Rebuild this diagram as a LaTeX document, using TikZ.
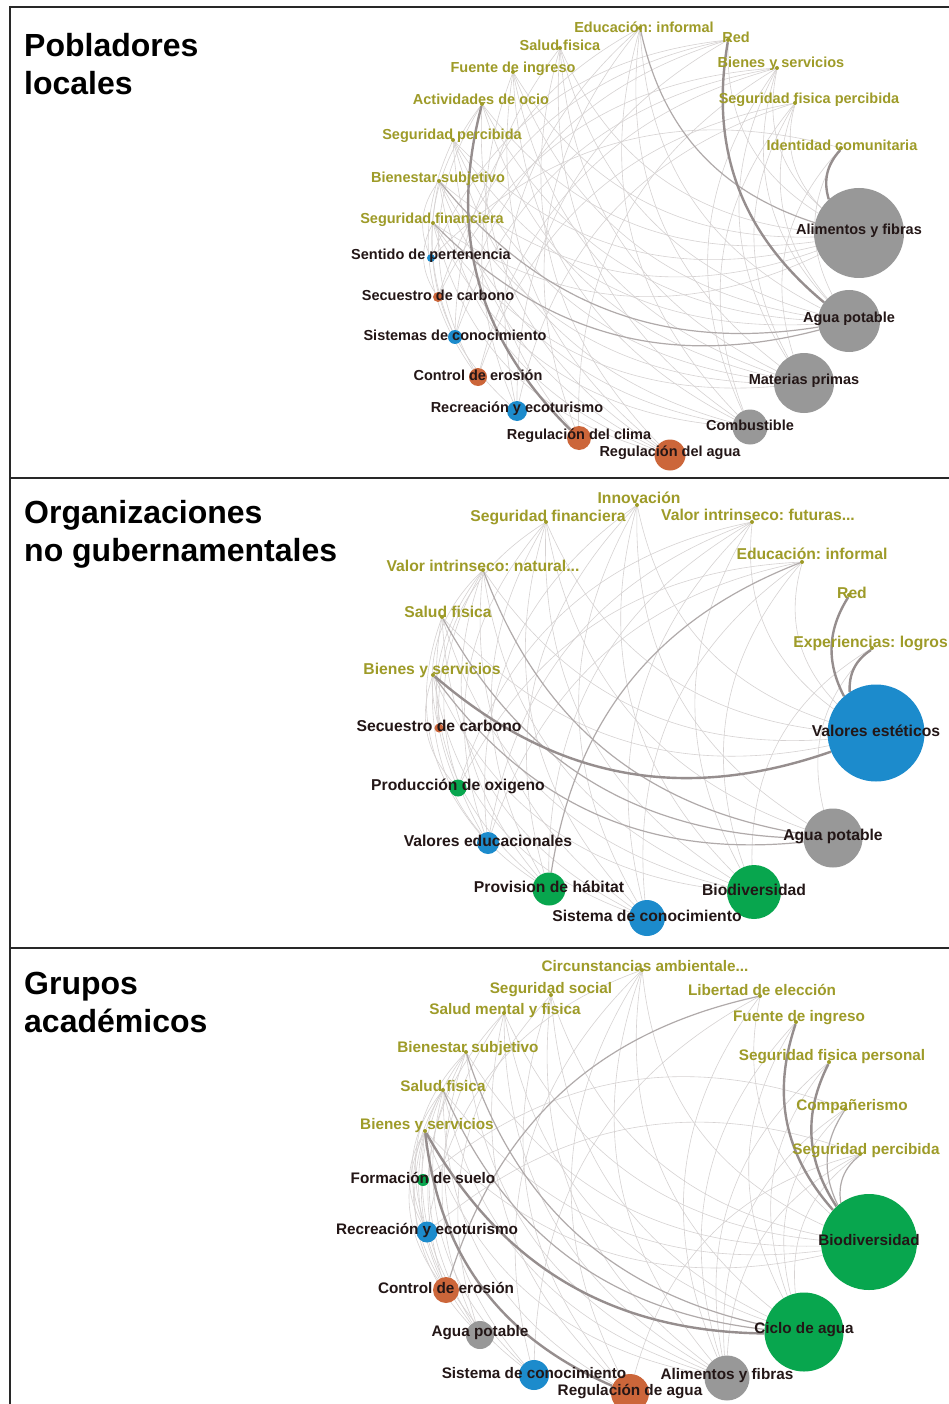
\documentclass[tikz,border=0pt]{standalone}
\usepackage{fontspec}
\setmainfont{Liberation Sans}
\usetikzlibrary{backgrounds}
\frenchspacing

\definecolor{wbtext}{RGB}{158,155,40}
\definecolor{svtext}{RGB}{35,22,22}
\definecolor{cgris}{RGB}{152,152,152}
\definecolor{cnaranja}{RGB}{204,102,58}
\definecolor{cazul}{RGB}{28,139,204}
\definecolor{cverde}{RGB}{8,166,78}
\definecolor{lnkfaint}{RGB}{214,210,210}
\definecolor{lnkmed}{RGB}{176,170,170}
\definecolor{lnkdark}{RGB}{150,142,142}
\definecolor{frame}{RGB}{40,40,40}

\begin{document}
\begin{tikzpicture}[x=1pt,y=-1pt,
  wbdot/.style={circle,fill=wbtext,inner sep=0pt,minimum size=4pt},
  svdot/.style={circle,inner sep=0pt,minimum size=#1},
  wblab/.style={text=wbtext,inner sep=0pt},
  svlab/.style={text=svtext,inner sep=0pt,yshift=2pt},
  heading/.style={font=\bfseries\fontsize{32}{38}\selectfont,anchor=base west,inner sep=0pt},
  lnk/.style={draw=lnkfaint,line width=0.6pt,bend right=30},
  lnkmid/.style={draw=lnkmed,line width=1.2pt,bend right=30},
  lnkbold/.style={draw=lnkdark,line width=2.4pt,bend right=30}]
\useasboundingbox (0,0) rectangle (949,1404);

% frame
\draw[frame,line width=2.5pt] (9,7) -- (949,7);
\draw[frame,line width=1.5pt] (10,6) -- (10,1404);
\draw[frame,line width=1.5pt] (10,478) -- (949,478);
\draw[frame,line width=1.5pt] (10,948) -- (949,948);

% headings
\node[heading] (t1a) at (24,57) {Pobladores};
\node[heading] (t1b) at (24,95) {locales};
\node[heading] (t2a) at (24,523) {Organizaciones};
\node[heading] (t2b) at (24,561) {no gubernamentales};
\node[heading] (t3a) at (24,994) {Grupos};
\node[heading] (t3b) at (24,1032) {académicos};

% Pobladores locales
\begin{scope}[font=\bfseries\fontsize{14.5}{17}\selectfont]
\node[wbdot] (a-edu) at (640,28) {};
\node[wbdot] (a-salud) at (560,48) {};
\node[wbdot] (a-fuente) at (513,72) {};
\node[wbdot] (a-ocio) at (482,104) {};
\node[wbdot] (a-segperc) at (453,140) {};
\node[wbdot] (a-bienest) at (439,181) {};
\node[wbdot] (a-segfin) at (433,223) {};
\node[wbdot] (a-red) at (728,40) {};
\node[wbdot] (a-bienes) at (777,68) {};
\node[wbdot] (a-segfis) at (795,103) {};
\node[wbdot] (a-ident) at (841,148) {};
\node[wblab] (a-edu-l) at (644,27) {Educación: informal};
\node[wblab] (a-salud-l) at (560,45) {Salud fisica};
\node[wblab] (a-fuente-l) at (513,69) {Fuente de ingreso};
\node[wblab] (a-ocio-l) at (481,99) {Actividades de ocio};
\node[wblab] (a-segperc-l) at (452,136) {Seguridad percibida};
\node[wblab] (a-bienest-l) at (438,179) {Bienestar subjetivo};
\node[wblab] (a-segfin-l) at (432,220) {Seguridad financiera};
\node[wblab] (a-red-l) at (736,37) {Red};
\node[wblab] (a-bienes-l) at (781,64) {Bienes y servicios};
\node[wblab] (a-segfis-l) at (809,100) {Seguridad fisica percibida};
\node[wblab] (a-ident-l) at (842,145) {Identidad comunitaria};
\node[svdot=8pt,fill=cazul] (a-sent) at (431,258) {};
\node[svdot=10pt,fill=cnaranja] (a-secu) at (438,297) {};
\node[svdot=14pt,fill=cazul] (a-sist) at (455,337) {};
\node[svdot=18pt,fill=cnaranja] (a-ctrl) at (478,377) {};
\node[svdot=20pt,fill=cazul] (a-recre) at (517,411) {};
\node[svdot=24pt,fill=cnaranja] (a-clima) at (579,438) {};
\node[svdot=31pt,fill=cnaranja] (a-ragua) at (670,455) {};
\node[svdot=35pt,fill=cgris] (a-comb) at (750,427) {};
\node[svdot=60pt,fill=cgris] (a-mat) at (804,383) {};
\node[svdot=62pt,fill=cgris] (a-apot) at (849,321) {};
\node[svdot=90pt,fill=cgris] (a-alim) at (859,233) {};
\node[svlab] (a-sent-l) at (a-sent) {Sentido de pertenencia};
\node[svlab] (a-secu-l) at (a-secu) {Secuestro de carbono};
\node[svlab] (a-sist-l) at (a-sist) {Sistemas de conocimiento};
\node[svlab] (a-ctrl-l) at (a-ctrl) {Control de erosión};
\node[svlab] (a-recre-l) at (a-recre) {Recreación y ecoturismo};
\node[svlab] (a-clima-l) at (a-clima) {Regulación del clima};
\node[svlab] (a-ragua-l) at (a-ragua) {Regulación del agua};
\node[svlab] (a-comb-l) at (a-comb) {Combustible};
\node[svlab] (a-mat-l) at (a-mat) {Materias primas};
\node[svlab] (a-apot-l) at (a-apot) {Agua potable};
\node[svlab] (a-alim-l) at (a-alim) {Alimentos y fibras};
\end{scope}

% Organizaciones no gubernamentales
\begin{scope}[font=\bfseries\fontsize{15.7}{18}\selectfont]
\node[wbdot] (b-innov) at (637,505) {};
\node[wbdot] (b-segfin) at (546,522) {};
\node[wbdot] (b-vfut) at (752,522) {};
\node[wbdot] (b-vnat) at (483,570) {};
\node[wbdot] (b-edu) at (802,562) {};
\node[wbdot] (b-salud) at (442,617) {};
\node[wbdot] (b-red) at (849,595) {};
\node[wbdot] (b-exper) at (872,648) {};
\node[wbdot] (b-bienes) at (433,675) {};
\node[wblab] (b-innov-l) at (639,498) {Innovación};
\node[wblab] (b-segfin-l) at (548,517) {Seguridad financiera};
\node[wblab] (b-vfut-l) at (758,515) {Valor intrinseco: futuras...};
\node[wblab] (b-vnat-l) at (483,566) {Valor intrinseco: natural...};
\node[wblab] (b-edu-l) at (812,554) {Educación: informal};
\node[wblab] (b-salud-l) at (448,612) {Salud fisica};
\node[wblab] (b-red-l) at (852,593) {Red};
\node[wblab,anchor=east] (b-exper-l) at (948,643) {Experiencias: logros};
\node[wblab] (b-bienes-l) at (432,670) {Bienes y servicios};
\node[svdot=9pt,fill=cnaranja] (b-secu) at (439,728) {};
\node[svdot=17pt,fill=cverde] (b-prod) at (458,788) {};
\node[svdot=22pt,fill=cazul] (b-vedu) at (488,843) {};
\node[svdot=33pt,fill=cverde] (b-hab) at (549,889) {};
\node[svdot=36pt,fill=cazul] (b-sist) at (647,918) {};
\node[svdot=54pt,fill=cverde] (b-biod) at (754,892) {};
\node[svdot=59pt,fill=cgris] (b-apot) at (833,838) {};
\node[svdot=97pt,fill=cazul] (b-vest) at (876,733) {};
\node[svlab] (b-secu-l) at (b-secu) {Secuestro de carbono};
\node[svlab] (b-prod-l) at (b-prod) {Producción de oxigeno};
\node[svlab] (b-vedu-l) at (b-vedu) {Valores educacionales};
\node[svlab] (b-hab-l) at (b-hab) {Provision de hábitat};
\node[svlab] (b-sist-l) at (b-sist) {Sistema de conocimiento};
\node[svlab] (b-biod-l) at (b-biod) {Biodiversidad};
\node[svlab] (b-apot-l) at (b-apot) {Agua potable};
\node[svlab] (b-vest-l) at (b-vest) {Valores estéticos};
\end{scope}

% Grupos academicos
\begin{scope}[font=\bfseries\fontsize{15.3}{18}\selectfont]
\node[wbdot] (c-circ) at (642,970) {};
\node[wbdot] (c-segsoc) at (551,995) {};
\node[wbdot] (c-liber) at (760,996) {};
\node[wbdot] (c-saludm) at (504,1013) {};
\node[wbdot] (c-fuente) at (796,1022) {};
\node[wbdot] (c-bienest) at (466,1052) {};
\node[wbdot] (c-segfis) at (829,1062) {};
\node[wbdot] (c-saludf) at (443,1090) {};
\node[wbdot] (c-comp) at (845,1109) {};
\node[wbdot] (c-bienes) at (425,1131) {};
\node[wbdot] (c-segperc) at (860,1154) {};
\node[wblab] (c-circ-l) at (645,966) {Circunstancias ambientale...};
\node[wblab] (c-segsoc-l) at (551,990) {Seguridad social};
\node[wblab] (c-liber-l) at (762,990) {Libertad de elección};
\node[wblab] (c-saludm-l) at (505,1011) {Salud mental y fisica};
\node[wblab] (c-fuente-l) at (799,1018) {Fuente de ingreso};
\node[wblab] (c-bienest-l) at (468,1049) {Bienestar subjetivo};
\node[wblab] (c-segfis-l) at (832,1057) {Seguridad fisica personal};
\node[wblab] (c-saludf-l) at (443,1086) {Salud fisica};
\node[wblab] (c-comp-l) at (852,1107) {Compañerismo};
\node[wblab] (c-bienes-l) at (427,1126) {Bienes y servicios};
\node[wblab] (c-segperc-l) at (866,1151) {Seguridad percibida};
\node[svdot=12pt,fill=cverde] (c-form) at (423,1180) {};
\node[svdot=21pt,fill=cazul] (c-recre) at (427,1232) {};
\node[svdot=26pt,fill=cnaranja] (c-ctrl) at (446,1290) {};
\node[svdot=28pt,fill=cgris] (c-apot) at (480,1335) {};
\node[svdot=30pt,fill=cazul] (c-sist) at (534,1375) {};
\node[svdot=38pt,fill=cnaranja] (c-ragua) at (630,1393) {};
\node[svdot=45pt,fill=cgris] (c-alim) at (727,1378) {};
\node[svdot=79pt,fill=cverde] (c-ciclo) at (804,1332) {};
\node[svdot=96pt,fill=cverde] (c-biod) at (869,1242) {};
\node[svlab] (c-form-l) at (c-form) {Formación de suelo};
\node[svlab] (c-recre-l) at (c-recre) {Recreación y ecoturismo};
\node[svlab] (c-ctrl-l) at (c-ctrl) {Control de erosión};
\node[svlab] (c-apot-l) at (c-apot) {Agua potable};
\node[svlab] (c-sist-l) at (c-sist) {Sistema de conocimiento};
\node[svlab] (c-ragua-l) at (c-ragua) {Regulación de agua};
\node[svlab] (c-alim-l) at (c-alim) {Alimentos y fibras};
\node[svlab] (c-ciclo-l) at (c-ciclo) {Ciclo de agua};
\node[svlab] (c-biod-l) at (c-biod) {Biodiversidad};
\end{scope}

% links, behind the nodes
\begin{scope}[on background layer]
\fill[white] (0,0) rectangle (949,1404);
\foreach \w/\s in {edu/apot,edu/mat,edu/comb,edu/recre,edu/sist,edu/clima,
  salud/alim,salud/apot,salud/mat,salud/ragua,salud/comb,salud/recre,
  fuente/alim,fuente/apot,fuente/mat,fuente/comb,fuente/ragua,fuente/clima,
  ocio/alim,ocio/apot,ocio/mat,ocio/sist,ocio/ctrl,ocio/ragua,
  segperc/alim,segperc/apot,segperc/mat,segperc/comb,segperc/ragua,segperc/ctrl,
  bienest/alim,bienest/mat,bienest/sent,bienest/recre,bienest/comb,bienest/ragua,
  segfin/alim,segfin/mat,segfin/comb,segfin/ragua,segfin/secu,
  red/alim,red/sent,red/sist,red/secu,red/recre,
  bienes/alim,bienes/apot,bienes/mat,bienes/comb,bienes/ctrl,bienes/clima,bienes/secu,bienes/sist,
  segfis/alim,segfis/apot,segfis/mat,segfis/comb,segfis/ctrl,segfis/recre,
  ident/apot,ident/mat,ident/sent}
  \draw[lnk] (a-\w) to (a-\s);
\foreach \w/\s in {edu/alim,segfin/apot,bienest/apot}
  \draw[lnkmid] (a-\w) to (a-\s);
\foreach \w/\s in {red/apot,ident/alim,ocio/clima}
  \draw[lnkbold] (a-\w) to (a-\s);

\foreach \w/\s in {innov/vest,innov/biod,innov/sist,innov/hab,innov/vedu,innov/apot,
  segfin/vest,segfin/biod,segfin/apot,segfin/sist,segfin/hab,segfin/vedu,segfin/secu,
  vfut/vest,vfut/hab,vfut/vedu,vfut/prod,vfut/sist,vfut/biod,
  vnat/vest,vnat/biod,vnat/sist,vnat/hab,vnat/prod,vnat/vedu,vnat/secu,
  edu/vedu,edu/sist,edu/biod,edu/vest,edu/prod,
  salud/vest,salud/biod,salud/sist,salud/hab,salud/vedu,
  exper/biod,exper/apot,
  bienes/biod,bienes/sist,bienes/hab,bienes/prod}
  \draw[lnk] (b-\w) to (b-\s);
\foreach \w/\s in {vnat/apot,edu/hab,salud/apot,bienes/apot}
  \draw[lnkmid] (b-\w) to (b-\s);
\foreach \w/\s in {bienes/vest,red/vest,exper/vest}
  \draw[lnkbold] (b-\w) to (b-\s);

\foreach \w/\s in {circ/biod,circ/ciclo,circ/sist,circ/alim,circ/recre,circ/ragua,
  segsoc/biod,segsoc/ciclo,segsoc/ragua,segsoc/alim,segsoc/apot,
  liber/sist,liber/biod,liber/alim,
  saludm/biod,saludm/ciclo,saludm/alim,saludm/ragua,saludm/apot,saludm/ctrl,
  fuente/alim,fuente/ciclo,
  bienest/biod,bienest/recre,bienest/ctrl,bienest/alim,bienest/apot,bienest/sist,
  segfis/ciclo,segfis/alim,
  saludf/biod,saludf/alim,saludf/ragua,saludf/recre,saludf/ctrl,saludf/apot,saludf/sist,
  comp/ciclo,comp/alim,comp/form,
  bienes/biod,bienes/alim,bienes/recre,bienes/ctrl,bienes/apot,bienes/sist,
  segperc/ciclo,segperc/alim,segperc/ragua,segperc/recre}
  \draw[lnk] (c-\w) to (c-\s);
\foreach \w/\s in {liber/ctrl,saludf/ciclo,segperc/biod,comp/biod,bienest/ciclo}
  \draw[lnkmid] (c-\w) to (c-\s);
\foreach \w/\s in {fuente/biod,segfis/biod,bienes/ciclo,bienes/ragua}
  \draw[lnkbold] (c-\w) to (c-\s);
\end{scope}
\end{tikzpicture}
\end{document}
